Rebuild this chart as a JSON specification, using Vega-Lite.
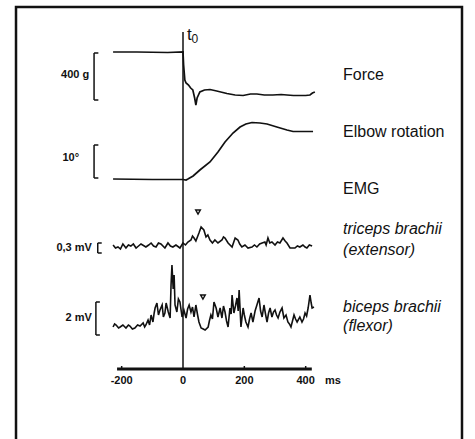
{
  "$schema": "https://vega.github.io/schema/vega-lite/v6.json",
  "width": 475,
  "height": 439,
  "autosize": {"type": "none"},
  "padding": 0,
  "background": "white",
  "config": {"view": {"stroke": null}, "font": "Liberation Sans"},
  "datasets": {
    "frame": [{"t": -544.5, "t2": 909.7, "v": 432, "v2": -10}],
    "traces": [
      {"s": "force", "t": -228, "v": 387}, {"s": "force", "t": -150, "v": 387}, {"s": "force", "t": -50, "v": 386.5}, {"s": "force", "t": 0, "v": 387},
      {"s": "force", "t": 2, "v": 374}, {"s": "force", "t": 6, "v": 359}, {"s": "force", "t": 10, "v": 356}, {"s": "force", "t": 18, "v": 354},
      {"s": "force", "t": 25, "v": 351}, {"s": "force", "t": 32, "v": 349}, {"s": "force", "t": 38, "v": 341}, {"s": "force", "t": 42, "v": 334},
      {"s": "force", "t": 46, "v": 341}, {"s": "force", "t": 55, "v": 347}, {"s": "force", "t": 70, "v": 349}, {"s": "force", "t": 88, "v": 349.5},
      {"s": "force", "t": 110, "v": 348}, {"s": "force", "t": 143, "v": 345.5}, {"s": "force", "t": 170, "v": 344}, {"s": "force", "t": 196, "v": 343.5},
      {"s": "force", "t": 220, "v": 345}, {"s": "force", "t": 241, "v": 345}, {"s": "force", "t": 265, "v": 344}, {"s": "force", "t": 293, "v": 344},
      {"s": "force", "t": 320, "v": 344.5}, {"s": "force", "t": 339, "v": 344}, {"s": "force", "t": 360, "v": 343.5}, {"s": "force", "t": 381, "v": 343.5},
      {"s": "force", "t": 400, "v": 343.5}, {"s": "force", "t": 414, "v": 344}, {"s": "force", "t": 422, "v": 346}, {"s": "force", "t": 430, "v": 347},
      {"s": "elbow", "t": -228, "v": 260}, {"s": "elbow", "t": -100, "v": 259.5}, {"s": "elbow", "t": 0, "v": 259.5}, {"s": "elbow", "t": 10, "v": 259},
      {"s": "elbow", "t": 16, "v": 260}, {"s": "elbow", "t": 33, "v": 263}, {"s": "elbow", "t": 55, "v": 269}, {"s": "elbow", "t": 88, "v": 277},
      {"s": "elbow", "t": 114, "v": 287}, {"s": "elbow", "t": 137, "v": 297}, {"s": "elbow", "t": 163, "v": 306}, {"s": "elbow", "t": 186, "v": 312},
      {"s": "elbow", "t": 205, "v": 315}, {"s": "elbow", "t": 225, "v": 316.5}, {"s": "elbow", "t": 251, "v": 316}, {"s": "elbow", "t": 274, "v": 315},
      {"s": "elbow", "t": 306, "v": 312}, {"s": "elbow", "t": 339, "v": 309}, {"s": "elbow", "t": 359, "v": 307.5}, {"s": "elbow", "t": 424, "v": 307.5}
    ],
    "emg": [
      {"s": "tri", "t": -228, "v": 194}, {"s": "tri", "t": -220, "v": 191}, {"s": "tri", "t": -212, "v": 192}, {"s": "tri", "t": -204, "v": 190}, {"s": "tri", "t": -196, "v": 195}, {"s": "tri", "t": -186, "v": 191},
      {"s": "tri", "t": -178, "v": 194}, {"s": "tri", "t": -170, "v": 193}, {"s": "tri", "t": -162, "v": 195}, {"s": "tri", "t": -153, "v": 191}, {"s": "tri", "t": -145, "v": 193}, {"s": "tri", "t": -137, "v": 195}, {"s": "tri", "t": -121, "v": 192},
      {"s": "tri", "t": -112, "v": 194}, {"s": "tri", "t": -104, "v": 196}, {"s": "tri", "t": -96, "v": 193}, {"s": "tri", "t": -88, "v": 192}, {"s": "tri", "t": -80, "v": 196}, {"s": "tri", "t": -72, "v": 195}, {"s": "tri", "t": -59, "v": 191},
      {"s": "tri", "t": -49, "v": 196}, {"s": "tri", "t": -41, "v": 193}, {"s": "tri", "t": -33, "v": 192}, {"s": "tri", "t": -23, "v": 194}, {"s": "tri", "t": -10, "v": 191},
      {"s": "tri", "t": 0, "v": 196}, {"s": "tri", "t": 8, "v": 194}, {"s": "tri", "t": 16, "v": 197}, {"s": "tri", "t": 26, "v": 199}, {"s": "tri", "t": 31, "v": 203}, {"s": "tri", "t": 36, "v": 201},
      {"s": "tri", "t": 42, "v": 198}, {"s": "tri", "t": 52, "v": 206}, {"s": "tri", "t": 59, "v": 212}, {"s": "tri", "t": 68, "v": 209},
      {"s": "tri", "t": 75, "v": 202}, {"s": "tri", "t": 81, "v": 204}, {"s": "tri", "t": 88, "v": 199}, {"s": "tri", "t": 96, "v": 196}, {"s": "tri", "t": 104, "v": 199}, {"s": "tri", "t": 114, "v": 196},
      {"s": "tri", "t": 127, "v": 199}, {"s": "tri", "t": 132, "v": 202}, {"s": "tri", "t": 137, "v": 201}, {"s": "tri", "t": 147, "v": 196}, {"s": "tri", "t": 160, "v": 192},
      {"s": "tri", "t": 170, "v": 201}, {"s": "tri", "t": 179, "v": 199}, {"s": "tri", "t": 185, "v": 195}, {"s": "tri", "t": 192, "v": 192}, {"s": "tri", "t": 202, "v": 194},
      {"s": "tri", "t": 212, "v": 191}, {"s": "tri", "t": 225, "v": 192}, {"s": "tri", "t": 233, "v": 194}, {"s": "tri", "t": 241, "v": 192}, {"s": "tri", "t": 250, "v": 195}, {"s": "tri", "t": 258, "v": 196},
      {"s": "tri", "t": 267, "v": 197}, {"s": "tri", "t": 271, "v": 194}, {"s": "tri", "t": 277, "v": 201}, {"s": "tri", "t": 283, "v": 196}, {"s": "tri", "t": 290, "v": 197}, {"s": "tri", "t": 300, "v": 194},
      {"s": "tri", "t": 308, "v": 197}, {"s": "tri", "t": 316, "v": 196}, {"s": "tri", "t": 326, "v": 201}, {"s": "tri", "t": 333, "v": 198}, {"s": "tri", "t": 339, "v": 196}, {"s": "tri", "t": 349, "v": 191},
      {"s": "tri", "t": 365, "v": 191}, {"s": "tri", "t": 373, "v": 193}, {"s": "tri", "t": 381, "v": 192}, {"s": "tri", "t": 391, "v": 194}, {"s": "tri", "t": 398, "v": 192}, {"s": "tri", "t": 404, "v": 191},
      {"s": "tri", "t": 412, "v": 194}, {"s": "tri", "t": 421, "v": 193},
      {"s": "bi", "t": -228, "v": 112}, {"s": "bi", "t": -223, "v": 115}, {"s": "bi", "t": -218, "v": 114}, {"s": "bi", "t": -210, "v": 111}, {"s": "bi", "t": -205, "v": 112}, {"s": "bi", "t": -196, "v": 114},
      {"s": "bi", "t": -186, "v": 111}, {"s": "bi", "t": -178, "v": 114}, {"s": "bi", "t": -173, "v": 113}, {"s": "bi", "t": -165, "v": 110}, {"s": "bi", "t": -157, "v": 111}, {"s": "bi", "t": -148, "v": 114}, {"s": "bi", "t": -140, "v": 113},
      {"s": "bi", "t": -130, "v": 116}, {"s": "bi", "t": -125, "v": 112}, {"s": "bi", "t": -121, "v": 114}, {"s": "bi", "t": -114, "v": 119}, {"s": "bi", "t": -109, "v": 114}, {"s": "bi", "t": -104, "v": 124},
      {"s": "bi", "t": -98, "v": 117}, {"s": "bi", "t": -94, "v": 126}, {"s": "bi", "t": -91, "v": 131}, {"s": "bi", "t": -85, "v": 136}, {"s": "bi", "t": -80, "v": 124}, {"s": "bi", "t": -75, "v": 129},
      {"s": "bi", "t": -68, "v": 134}, {"s": "bi", "t": -64, "v": 122}, {"s": "bi", "t": -59, "v": 126}, {"s": "bi", "t": -55, "v": 136}, {"s": "bi", "t": -48, "v": 127}, {"s": "bi", "t": -42, "v": 121},
      {"s": "bi", "t": -39, "v": 154}, {"s": "bi", "t": -36, "v": 174}, {"s": "bi", "t": -32, "v": 150}, {"s": "bi", "t": -29, "v": 164}, {"s": "bi", "t": -26, "v": 134},
      {"s": "bi", "t": -20, "v": 127}, {"s": "bi", "t": -15, "v": 140}, {"s": "bi", "t": -10, "v": 137}, {"s": "bi", "t": -3, "v": 122}, {"s": "bi", "t": 3, "v": 129},
      {"s": "bi", "t": 10, "v": 121}, {"s": "bi", "t": 15, "v": 130}, {"s": "bi", "t": 20, "v": 134}, {"s": "bi", "t": 26, "v": 127}, {"s": "bi", "t": 31, "v": 132}, {"s": "bi", "t": 36, "v": 122},
      {"s": "bi", "t": 42, "v": 134}, {"s": "bi", "t": 47, "v": 125}, {"s": "bi", "t": 52, "v": 117}, {"s": "bi", "t": 59, "v": 111}, {"s": "bi", "t": 66, "v": 110}, {"s": "bi", "t": 72, "v": 109},
      {"s": "bi", "t": 82, "v": 112}, {"s": "bi", "t": 86, "v": 118}, {"s": "bi", "t": 91, "v": 124}, {"s": "bi", "t": 96, "v": 120}, {"s": "bi", "t": 101, "v": 137}, {"s": "bi", "t": 108, "v": 131},
      {"s": "bi", "t": 114, "v": 122}, {"s": "bi", "t": 121, "v": 131}, {"s": "bi", "t": 127, "v": 121}, {"s": "bi", "t": 132, "v": 133}, {"s": "bi", "t": 137, "v": 127},
      {"s": "bi", "t": 142, "v": 118}, {"s": "bi", "t": 147, "v": 112}, {"s": "bi", "t": 153, "v": 131}, {"s": "bi", "t": 157, "v": 125}, {"s": "bi", "t": 160, "v": 144}, {"s": "bi", "t": 166, "v": 126},
      {"s": "bi", "t": 171, "v": 133}, {"s": "bi", "t": 176, "v": 141}, {"s": "bi", "t": 180, "v": 128}, {"s": "bi", "t": 183, "v": 149}, {"s": "bi", "t": 189, "v": 112}, {"s": "bi", "t": 196, "v": 131},
      {"s": "bi", "t": 200, "v": 124}, {"s": "bi", "t": 205, "v": 117}, {"s": "bi", "t": 212, "v": 112}, {"s": "bi", "t": 217, "v": 120}, {"s": "bi", "t": 222, "v": 126}, {"s": "bi", "t": 228, "v": 117},
      {"s": "bi", "t": 235, "v": 128}, {"s": "bi", "t": 241, "v": 134}, {"s": "bi", "t": 248, "v": 141}, {"s": "bi", "t": 253, "v": 128}, {"s": "bi", "t": 258, "v": 122}, {"s": "bi", "t": 264, "v": 134},
      {"s": "bi", "t": 269, "v": 125}, {"s": "bi", "t": 274, "v": 117}, {"s": "bi", "t": 279, "v": 126}, {"s": "bi", "t": 284, "v": 131}, {"s": "bi", "t": 290, "v": 122}, {"s": "bi", "t": 295, "v": 127}, {"s": "bi", "t": 300, "v": 129},
      {"s": "bi", "t": 305, "v": 124}, {"s": "bi", "t": 310, "v": 121}, {"s": "bi", "t": 316, "v": 127}, {"s": "bi", "t": 323, "v": 131}, {"s": "bi", "t": 329, "v": 121}, {"s": "bi", "t": 336, "v": 124}, {"s": "bi", "t": 342, "v": 117},
      {"s": "bi", "t": 347, "v": 115}, {"s": "bi", "t": 352, "v": 112}, {"s": "bi", "t": 357, "v": 118}, {"s": "bi", "t": 362, "v": 124}, {"s": "bi", "t": 367, "v": 120}, {"s": "bi", "t": 372, "v": 117}, {"s": "bi", "t": 381, "v": 122},
      {"s": "bi", "t": 388, "v": 117}, {"s": "bi", "t": 393, "v": 120}, {"s": "bi", "t": 398, "v": 126}, {"s": "bi", "t": 403, "v": 123}, {"s": "bi", "t": 408, "v": 131}, {"s": "bi", "t": 414, "v": 144},
      {"s": "bi", "t": 418, "v": 136}, {"s": "bi", "t": 421, "v": 131}, {"s": "bi", "t": 427, "v": 132}
    ],
    "segments": [
      {"t": 0, "t2": 0, "v": 407, "v2": 70},
      {"t": -290, "t2": -290, "v": 386, "v2": 339}, {"t": -290, "t2": -276, "v": 386, "v2": 386}, {"t": -290, "t2": -276, "v": 339, "v2": 339},
      {"t": -290, "t2": -290, "v": 294, "v2": 261}, {"t": -290, "t2": -276, "v": 294, "v2": 294}, {"t": -290, "t2": -276, "v": 261, "v2": 261},
      {"t": -278, "t2": -278, "v": 196, "v2": 186}, {"t": -278, "t2": -265, "v": 196, "v2": 196}, {"t": -278, "t2": -265, "v": 186, "v2": 186},
      {"t": -284, "t2": -284, "v": 137, "v2": 104}, {"t": -284, "t2": -271, "v": 137, "v2": 137}, {"t": -284, "t2": -271, "v": 104, "v2": 104},
      {"t": -200, "t2": -200, "v": 70, "v2": 73}, {"t": 200, "t2": 200, "v": 70, "v2": 73}, {"t": 400, "t2": 400, "v": 70, "v2": 73}
    ],
    "axisline": [{"t": -215, "t2": 420, "v": 70, "v2": 70}],
    "ticklabels": [
      {"t": -200, "v": 58, "label": "-200"}, {"t": 0, "v": 58, "label": "0"},
      {"t": 200, "v": 58, "label": "200"}, {"t": 400, "v": 58, "label": "400"}
    ],
    "unit": [{"t": 463, "v": 58, "label": "ms"}],
    "scalelabels": [
      {"t": -306, "v": 364, "label": "400 g"}, {"t": -339, "v": 281, "label": "10°"},
      {"t": -297, "v": 191, "label": "0,3 mV"}, {"t": -297, "v": 121, "label": "2 mV"}
    ],
    "names": [
      {"t": 522, "v": 364, "label": "Force"}, {"t": 522, "v": 307, "label": "Elbow rotation"},
      {"t": 522, "v": 250, "label": "EMG"}
    ],
    "muscles": [
      {"t": 522, "v": 210, "label": "triceps brachii"}, {"t": 522, "v": 189, "label": "(extensor)"},
      {"t": 522, "v": 132, "label": "biceps brachii"}, {"t": 522, "v": 113, "label": "(flexor)"}
    ],
    "tlabel": [{"t": 21, "v": 404, "label": "t"}],
    "tsub": [{"t": 39, "v": 400, "label": "0"}],
    "arrows": [{"t": 49, "v": 227}, {"t": 65, "v": 142}]
  },
  "encoding": {
    "x": {"field": "t", "type": "quantitative", "scale": {"domain": [-596.7, 952.1], "nice": false, "zero": false}, "axis": null},
    "y": {"field": "v", "type": "quantitative", "scale": {"domain": [0, 439], "nice": false, "zero": false}, "axis": null}
  },
  "layer": [
    {"data": {"name": "frame"}, "mark": {"type": "rect", "filled": false, "stroke": "#111", "strokeWidth": 2.5},
     "encoding": {"x2": {"field": "t2"}, "y2": {"field": "v2"}}},
    {"data": {"name": "traces"}, "mark": {"type": "line", "stroke": "#111", "strokeWidth": 1.7},
     "encoding": {"detail": {"field": "s"}}},
    {"data": {"name": "emg"}, "mark": {"type": "line", "stroke": "#111", "strokeWidth": 1.6, "strokeJoin": "miter"},
     "encoding": {"detail": {"field": "s"}}},
    {"data": {"name": "segments"}, "mark": {"type": "rule", "stroke": "#111", "strokeWidth": 1.5},
     "encoding": {"x2": {"field": "t2"}, "y2": {"field": "v2"}}},
    {"data": {"name": "axisline"}, "mark": {"type": "rule", "stroke": "#111", "strokeWidth": 2.8},
     "encoding": {"x2": {"field": "t2"}, "y2": {"field": "v2"}}},
    {"data": {"name": "ticklabels"}, "mark": {"type": "text", "fontSize": 11, "fontWeight": "bold", "baseline": "middle", "align": "center", "color": "#111"},
     "encoding": {"text": {"field": "label"}}},
    {"data": {"name": "unit"}, "mark": {"type": "text", "fontSize": 11, "fontWeight": "bold", "baseline": "middle", "align": "left", "color": "#111"},
     "encoding": {"text": {"field": "label"}}},
    {"data": {"name": "scalelabels"}, "mark": {"type": "text", "fontSize": 11, "fontWeight": "bold", "baseline": "middle", "align": "right", "color": "#111"},
     "encoding": {"text": {"field": "label"}}},
    {"data": {"name": "names"}, "mark": {"type": "text", "fontSize": 16, "baseline": "middle", "align": "left", "color": "#111"},
     "encoding": {"text": {"field": "label"}}},
    {"data": {"name": "muscles"}, "mark": {"type": "text", "fontSize": 16, "fontStyle": "italic", "baseline": "middle", "align": "left", "color": "#111"},
     "encoding": {"text": {"field": "label"}}},
    {"data": {"name": "tlabel"}, "mark": {"type": "text", "fontSize": 17, "baseline": "middle", "align": "center", "color": "#111"},
     "encoding": {"text": {"field": "label"}}},
    {"data": {"name": "tsub"}, "mark": {"type": "text", "fontSize": 12, "baseline": "middle", "align": "center", "color": "#111"},
     "encoding": {"text": {"field": "label"}}},
    {"data": {"name": "arrows"}, "mark": {"type": "point", "shape": "triangle-down", "filled": false, "opacity": 1, "stroke": "#111", "strokeWidth": 1.4, "size": 22},
     "encoding": {}}
  ]
}
